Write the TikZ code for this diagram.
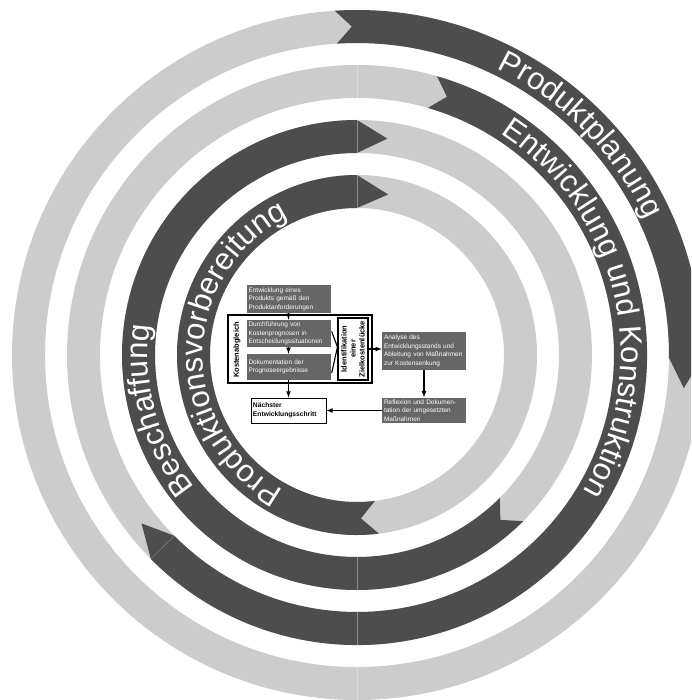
\documentclass[tikz,border=0pt]{standalone}
\usepackage{fontspec}
\setmainfont{Liberation Sans}
\usetikzlibrary{arrows,positioning,calc,decorations.text}

\definecolor{ringdark}{HTML}{4D4D4D}
\definecolor{ringlight}{HTML}{CCCCCC}
\definecolor{boxgray}{HTML}{666666}

\newcommand{\ringfont}{\fontsize{31}{31}\selectfont}
\newcommand{\boxfont}{\fontsize{6.5}{8.6}\selectfont}
\newcommand{\tagfont}{\fontsize{7.5}{9}\selectfont\bfseries}

% full light ring: {inner radius}{outer radius}
\newcommand{\lightring}[2]{%
  \fill[ringlight,even odd rule] (0,0) circle (#2) (0,0) circle (#1);}
% dark phase arrow, clockwise: {inner}{outer}{tail}{notch}{base}{tip}
\newcommand{\phasearrow}[6]{%
  \fill[ringdark] (#3:#2) arc[start angle=#3,end angle=#5,radius=#2]
    -- (#6:{(#1+#2)/2}) -- (#5:#1) arc[start angle=#5,end angle=#3,radius=#1]
    -- (#4:{(#1+#2)/2}) -- cycle;}
% phase label on a ring: {baseline radius}{mid angle}{half span}{text}
\newcommand{\phaselabel}[4]{%
  \path[decorate,decoration={text along path,text align=center,
      text color=white,text={|\ringfont|#4}}]
    ({#2+#3}:#1) arc[start angle={#2+#3},end angle={#2-#3},radius=#1];}

\tikzset{
  procbox/.style={fill=boxgray,text=white,font=\boxfont,align=left,
    inner sep=2pt,text width=80pt},
  whitebox/.style={draw,line width=1.1pt,fill=white},
  flow/.style={->,>=latex,line width=1.1pt},
  seam/.style={white,opacity=0.35,line width=0.4pt}
}

\begin{document}
\begin{tikzpicture}[x=1pt,y=1pt]

\useasboundingbox (-357,-345) rectangle (334,355);
\clip (-357,-345) rectangle (334,355);

    \begin{scope} % rings
        \lightring{312}{345}
        \lightring{257}{290}
        \lightring{202}{235}
        \lightring{147}{180}
    \end{scope}

    \begin{scope} % phases
        \phasearrow{312}{345}{93.7}{90.9}{-0.5}{-5.8}
        \phasearrow{257}{290}{74}{70.8}{-135.3}{-142}
        \phasearrow{202}{235}{-45}{-49}{-270}{-278}
        \phasearrow{147}{180}{-83}{-88.6}{-270}{-281}
    \end{scope}

    \begin{scope} % joints between the ring halves
        \foreach \ri/\ro in {257/290,202/235,147/180}
            \draw[seam] (0,\ri) -- (0,\ro);
        \foreach \ri/\ro in {312/345,257/290,202/235}
            \draw[seam] (0,-\ri) -- (0,-\ro);
        \draw[seam] (-135.3:257) -- (-135.3:290);
    \end{scope}

    \phaselabel{319}{44.5}{30}{Produktplanung}
    \phaselabel{264}{13}{55}{Entwicklung und Konstruktion}
    \phaselabel{209}{195.5}{35}{Beschaffung}
    \phaselabel{154}{179}{75}{Produktionsvorbereitung}

% cost comparison block
\node[whitebox,minimum width=144pt,minimum height=68pt] (frame) at (-57,6) {};
\node[rotate=90,font=\tagfont] (abgl) at (-120,5) {Kostenabgleich};

\node[procbox,minimum height=28pt] (prod) at (-68.5,56)
  {Entwicklung eines\\Produkts gemäß den\\Produktanforderungen};
\node[procbox,minimum height=27pt] (durch) at (-68.5,21.5)
  {Durchführung von\\Kostenprognosen in\\Entscheidungssituationen};
\node[procbox,minimum height=26pt] (doku) at (-68.5,-12)
  {Dokumentation der\\Prognoseergebnisse};

\node[whitebox,minimum width=30pt,minimum height=62pt,inner sep=0pt] (ident) at (-4,6) {};
\node[rotate=90,align=center,font=\tagfont] (identtext) at (ident)
  {Identifikation\\einer\\Zielkostenlücke};

\node[procbox,minimum height=38pt] (analyse) at (67,4)
  {Analyse des\\Entwicklungsstands und\\Ableitung von Maßnahmen\\zur Kostensenkung};
\node[procbox,minimum height=25pt] (reflex) at (67,-55.5)
  {Reflexion und Dokumen-\\tation der umgesetzten\\Maßnahmen};
\node[whitebox,font=\bfseries\fontsize{6.7}{8.6}\selectfont,align=left,text width=71pt,
  minimum height=25pt,inner sep=2pt,line width=0.8pt] (next) at (-68.5,-55.5)
  {Nächster\\Entwicklungsschritt};

\draw[flow] (prod) -- (durch);
\draw[flow] (durch) -- (doku);
\draw[flow] (doku) -- (next);
\draw[flow] (ident.east) -- (ident.east -| analyse.west);
\draw[flow] (analyse) -- (reflex);
\draw[flow] (reflex) -- (next);
\draw[line width=1.1pt] ([xshift=1pt,yshift=2pt]durch.east) -- ([yshift=2pt]ident.west)
  -- ([xshift=1pt,yshift=-6pt]doku.east);

\end{tikzpicture}
\end{document}
